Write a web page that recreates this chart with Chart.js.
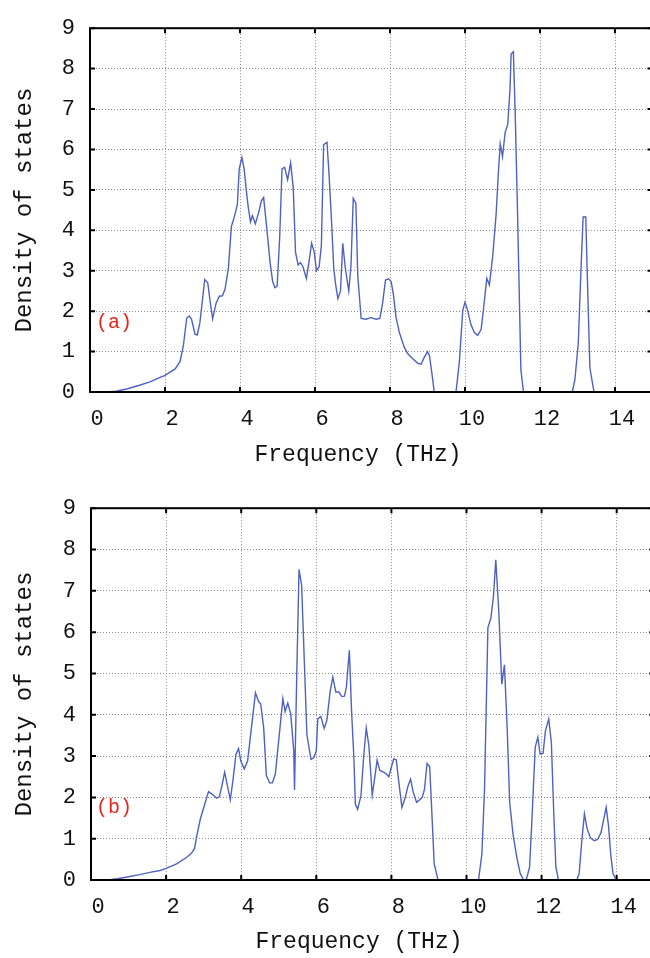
<!DOCTYPE html>
<html>
<head>
<meta charset="utf-8">
<script src="https://cdn.jsdelivr.net/npm/chart.js@4.4.1/dist/chart.umd.min.js"></script>
<style>
  html, body { margin: 0; padding: 0; background: #fff; overflow: hidden; }
  canvas { display: block; }
</style>
</head>
<body>
<canvas id="dosA" width="656" height="480"></canvas>
<canvas id="dosB" width="656" height="478"></canvas>
<script>
// (a) phonon density of states
const freqA = [0.4, 0.7, 1.0, 1.3, 1.6, 1.87, 2.0, 2.27, 2.4, 2.49, 2.58, 2.65, 2.71, 2.80, 2.86, 2.93,
  3.06, 3.14, 3.20, 3.27, 3.36, 3.45, 3.53, 3.60, 3.69, 3.77, 3.86, 3.93, 3.98, 4.05, 4.11, 4.18,
  4.22, 4.28, 4.33, 4.41, 4.50, 4.57, 4.63, 4.71, 4.80, 4.87, 4.93, 4.99, 5.06, 5.12, 5.19, 5.27,
  5.35, 5.42, 5.48, 5.55, 5.61, 5.68, 5.77, 5.83, 5.91, 5.98, 6.04, 6.11, 6.17, 6.23, 6.32, 6.37,
  6.44, 6.50, 6.55, 6.61, 6.68, 6.74, 6.81, 6.90, 6.96, 7.02, 7.09, 7.14, 7.23, 7.36, 7.49, 7.63,
  7.73, 7.80, 7.88, 7.96, 8.03, 8.09, 8.16, 8.25, 8.38, 8.47, 8.60, 8.74, 8.83, 8.92, 9.00, 9.05,
  9.12, 9.18, 9.76, 9.85, 9.94, 10.0, 10.07, 10.16, 10.25, 10.34, 10.43, 10.49, 10.58, 10.65, 10.74, 10.83,
  10.89, 10.94, 11.0, 11.07, 11.14, 11.20, 11.23, 11.29, 11.34, 11.40, 11.49, 11.56, 12.86, 12.93, 13.02, 13.10,
  13.15, 13.22, 13.27, 13.33, 13.44, 15.0];
const dosA = [0, 0.02, 0.08, 0.16, 0.25, 0.36, 0.41, 0.57, 0.75, 1.15, 1.83, 1.88, 1.79, 1.43, 1.41, 1.71,
  2.78, 2.70, 2.27, 1.81, 2.19, 2.37, 2.38, 2.54, 3.06, 4.09, 4.37, 4.65, 5.52, 5.80, 5.52, 4.89,
  4.57, 4.21, 4.36, 4.16, 4.45, 4.73, 4.81, 4.09, 3.22, 2.74, 2.58, 2.62, 3.86, 5.52, 5.56, 5.25,
  5.67, 5.05, 3.46, 3.14, 3.20, 3.10, 2.81, 3.16, 3.68, 3.46, 3.00, 3.10, 3.62, 6.12, 6.18, 5.45,
  4.25, 3.06, 2.66, 2.31, 2.50, 3.68, 3.05, 2.50, 3.13, 4.79, 4.67, 2.89, 1.82, 1.80, 1.84, 1.80,
  1.82, 2.18, 2.77, 2.80, 2.73, 2.42, 1.86, 1.47, 1.11, 0.95, 0.83, 0.71, 0.69, 0.87, 0.99, 0.91,
  0.44, 0, 0, 0.75, 2.02, 2.22, 2.02, 1.66, 1.47, 1.40, 1.55, 2.02, 2.81, 2.65, 3.37, 4.40,
  5.43, 6.14, 5.82, 6.42, 6.62, 7.49, 8.36, 8.42, 6.85, 4.48, 0.55, 0, 0, 0.3, 1.2, 3.2,
  4.33, 4.33, 2.6, 0.6, 0, 0];

// (b)
const freqB = [0.45, 0.7, 1.0, 1.3, 1.6, 1.84, 2.0, 2.28, 2.55, 2.68, 2.76, 2.82, 2.91, 3.04, 3.13, 3.22,
  3.35, 3.42, 3.49, 3.56, 3.62, 3.71, 3.78, 3.86, 3.93, 3.99, 4.08, 4.17, 4.24, 4.31, 4.38, 4.46,
  4.52, 4.60, 4.67, 4.76, 4.83, 4.91, 4.97, 5.04, 5.11, 5.17, 5.24, 5.32, 5.40, 5.42, 5.48, 5.54,
  5.61, 5.75, 5.86, 5.93, 6.0, 6.04, 6.12, 6.21, 6.28, 6.37, 6.44, 6.52, 6.60, 6.68, 6.75, 6.80,
  6.88, 6.94, 7.0, 7.04, 7.10, 7.19, 7.26, 7.33, 7.40, 7.49, 7.56, 7.62, 7.69, 7.78, 7.86, 7.93,
  7.99, 8.06, 8.13, 8.20, 8.28, 8.37, 8.44, 8.51, 8.58, 8.67, 8.75, 8.82, 8.88, 8.95, 9.02, 9.08,
  9.14, 9.20, 9.24, 10.32, 10.41, 10.48, 10.57, 10.65, 10.72, 10.78, 10.86, 10.94, 11.01, 11.08, 11.15, 11.24,
  11.34, 11.43, 11.52, 11.59, 11.68, 11.74, 11.83, 11.90, 11.96, 12.04, 12.10, 12.19, 12.26, 12.32, 12.38, 12.45,
  12.94, 13.0, 13.07, 13.14, 13.21, 13.30, 13.40, 13.49, 13.58, 13.65, 13.72, 13.78, 13.84, 13.90, 13.99, 15.0];
const dosB = [0, 0.03, 0.08, 0.13, 0.19, 0.23, 0.28, 0.39, 0.55, 0.65, 0.77, 1.08, 1.47, 1.87, 2.14, 2.08,
  1.98, 2.02, 2.30, 2.61, 2.34, 1.94, 2.41, 3.04, 3.18, 2.88, 2.69, 2.88, 3.43, 3.98, 4.53, 4.33,
  4.26, 3.67, 2.53, 2.35, 2.35, 2.57, 3.12, 3.75, 4.39, 4.08, 4.28, 4.02, 3.12, 2.18, 5.0, 7.52,
  7.13, 3.51, 2.92, 2.96, 3.12, 3.90, 3.96, 3.67, 3.86, 4.57, 4.91, 4.55, 4.55, 4.44, 4.45, 4.66,
  5.56, 4.07, 2.97, 1.84, 1.71, 2.04, 2.97, 3.68, 3.25, 2.05, 2.50, 2.90, 2.65, 2.62, 2.57, 2.50,
  2.70, 2.93, 2.91, 2.35, 1.76, 2.0, 2.27, 2.44, 2.13, 1.88, 1.94, 2.0, 2.19, 2.82, 2.74, 1.57,
  0.39, 0.16, 0, 0, 0.63, 2.19, 6.11, 6.34, 6.89, 7.75, 6.50, 4.74, 5.21, 3.76, 1.88, 1.10,
  0.55, 0.16, 0, 0, 0.31, 1.41, 3.21, 3.46, 3.05, 3.07, 3.60, 3.90, 3.33, 1.72, 0.31, 0,
  0, 0.16, 0.94, 1.60, 1.25, 1.02, 0.95, 0.98, 1.14, 1.45, 1.76, 1.33, 0.63, 0.16, 0, 0];

const xTicks = [0, 2, 4, 6, 8, 10, 12, 14];
const yTicks = [0, 1, 2, 3, 4, 5, 6, 7, 8, 9];

const MONO = '"Courier New", "Liberation Mono", monospace';
const LINE = '#4f61c2';
const INK = '#111';

function toPoints(xs, ys) {
  return xs.map((x, i) => ({ x: x, y: ys[i] }));
}

// gnuplot style box: border, inward ticks on all sides, x title, panel tag
const framePlugin = {
  id: 'frame',
  afterDraw(chart, args, opts) {
    const { ctx, chartArea: a, scales } = chart;
    ctx.save();
    ctx.strokeStyle = '#000';
    ctx.lineWidth = 2;
    ctx.beginPath();
    xTicks.forEach(v => {
      const px = scales.x.getPixelForValue(v);
      ctx.moveTo(px, a.bottom); ctx.lineTo(px, a.bottom - 5);
      ctx.moveTo(px, a.top); ctx.lineTo(px, a.top + 5);
    });
    yTicks.forEach(v => {
      const py = scales.y.getPixelForValue(v);
      ctx.moveTo(a.left, py); ctx.lineTo(a.left + 5, py);
      ctx.moveTo(a.right, py); ctx.lineTo(a.right - 5, py);
    });
    ctx.stroke();
    ctx.strokeRect(a.left, a.top, a.right - a.left, a.bottom - a.top);

    ctx.fillStyle = INK;
    ctx.font = '23px ' + MONO;
    ctx.textAlign = 'center';
    ctx.textBaseline = 'middle';
    ctx.fillText('Frequency (THz)', a.left + 268, opts.titleY);

    ctx.fillStyle = '#e8251c';
    ctx.font = '20px ' + MONO;
    ctx.textAlign = 'left';
    ctx.fillText(opts.tag, scales.x.getPixelForValue(opts.tagX), scales.y.getPixelForValue(opts.tagY));
    ctx.restore();
  }
};

function makePanel(id, xs, ys, p) {
  return new Chart(document.getElementById(id), {
    type: 'scatter',
    data: {
      datasets: [{
        data: toPoints(xs, ys),
        showLine: true,
        borderColor: LINE,
        borderWidth: 1.4,
        pointRadius: 0,
        tension: 0,
        fill: false
      }]
    },
    options: {
      responsive: false,
      animation: false,
      layout: { padding: { left: 0, top: p.top, right: p.right, bottom: 0 } },
      plugins: {
        legend: { display: false },
        tooltip: { enabled: false },
        frame: { titleY: p.titleY, tag: p.tag, tagX: p.tagX, tagY: p.tagY }
      },
      scales: {
        x: {
          type: 'linear',
          min: 0,
          max: 15,
          afterBuildTicks: s => { s.ticks = xTicks.map(v => ({ value: v })); },
          afterFit: s => { s.height = p.xh; },
          ticks: { font: { family: MONO, size: 22 }, color: INK, padding: 14, labelOffset: 7, maxRotation: 0, autoSkip: false },
          grid: { color: '#8a8a8a', lineWidth: 1, drawTicks: false },
          border: { display: false, dash: [1, 2] }
        },
        y: {
          type: 'linear',
          min: 0,
          max: 9,
          afterBuildTicks: s => { s.ticks = yTicks.map(v => ({ value: v })); },
          afterFit: s => { s.width = p.yw; },
          ticks: { font: { family: MONO, size: 22 }, color: INK, padding: 15 },
          grid: { color: '#8a8a8a', lineWidth: 1, drawTicks: false },
          border: { display: false, dash: [1, 2] },
          title: {
            display: true,
            text: 'Density of states',
            font: { family: MONO, size: 24 },
            color: INK,
            padding: { top: 10, bottom: 0 }
          }
        }
      }
    },
    plugins: [framePlugin]
  });
}

makePanel('dosA', freqA, dosA, { top: 13, right: 3.5, yw: 90, xh: 88, titleY: 455, tag: '(a)', tagX: 0.16, tagY: 1.71 });
makePanel('dosB', freqB, dosB, { top: 17, right: 1.75, yw: 91, xh: 78, titleY: 462, tag: '(b)', tagX: 0.13, tagY: 1.76 });
</script>
</body>
</html>
